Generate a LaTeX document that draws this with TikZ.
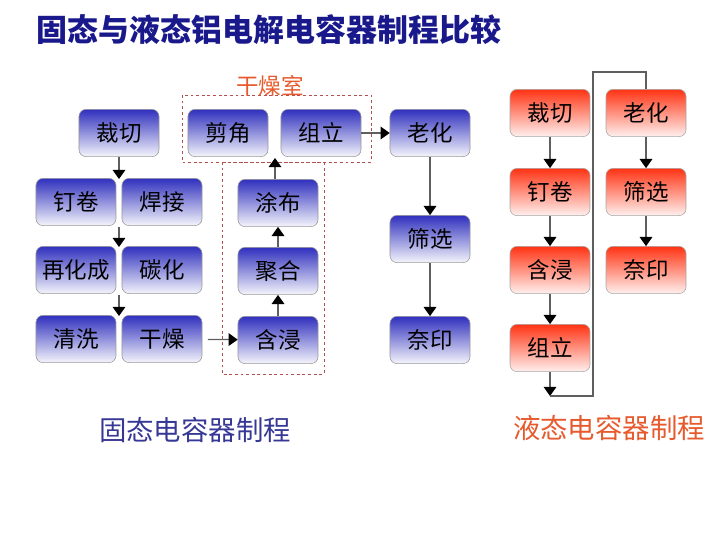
\documentclass[tikz,border=0pt]{standalone}
\usepackage{fontspec}
\setmainfont{Noto Sans CJK SC}
\usetikzlibrary{arrows.meta,positioning}
\definecolor{ssblue}{RGB}{48,48,190}
\definecolor{lqred}{RGB}{255,52,20}
\definecolor{titleblue}{RGB}{25,25,140}
\definecolor{labelblue}{RGB}{55,55,150}
\definecolor{roomred}{RGB}{176,80,80}
\definecolor{labelorange}{RGB}{230,90,45}
\definecolor{linegray}{RGB}{95,95,95}
\tikzstyle{ssbox} = [rectangle, rounded corners=5pt, minimum width=2cm, minimum height=1.18cm, inner sep=0pt, text centered, draw=gray!80, top color=ssblue, bottom color=ssblue!5, font=\fontsize{16}{18}\selectfont]
\tikzstyle{lqbox} = [rectangle, rounded corners=5pt, minimum width=2cm, minimum height=1.18cm, inner sep=0pt, text centered, draw=gray!70, top color=lqred, bottom color=lqred!7, font=\fontsize{16}{18}\selectfont]
\tikzstyle{arrow} = [draw=linegray, line width=0.9pt, -{Triangle[width=9pt,length=6.5pt,color=black]}]
\tikzstyle{line} = [draw=linegray, line width=0.9pt]
\tikzstyle{room} = [draw=roomred, line width=0.7pt, dash pattern=on 2pt off 2pt]

\begin{document}
\begin{tikzpicture}[x=0.025cm, y=-0.025cm]
  \useasboundingbox (0,0) rectangle (720,540);
  \node (title)[text=titleblue, font=\fontsize{22}{24}\selectfont\bfseries] at (269,30) {固态与液态铝电解电容器制程比较};

  % solid capacitor
  \node (cut)[ssbox] at (119,133) {裁切};
  \node (wind)[ssbox] at (76,202) {钉卷};
  \node (weld)[ssbox] at (162,202) {焊接};
  \node (reform)[ssbox] at (76,270) {再化成};
  \node (carb)[ssbox] at (162,270) {碳化};
  \node (wash)[ssbox] at (76,339) {清洗};
  \node (dry)[ssbox] at (162,339) {干燥};
  \node (trim)[ssbox] at (228,133) {剪角};
  \node (assy)[ssbox] at (321,133) {组立};
  \node (coat)[ssbox] at (278,203) {涂布};
  \node (poly)[ssbox] at (278,271) {聚合};
  \node (impr)[ssbox] at (278,340) {含浸};
  \node (age)[ssbox] at (430,133) {老化};
  \node (sort)[ssbox] at (430,239) {筛选};
  \node (mark)[ssbox] at (430,340) {奈印};

  \draw [room] (182,95) rectangle (371,162);
  \draw [room] (222,162) rectangle (324,374);
  \node (room)[text=labelorange, font=\fontsize{16}{18}\selectfont] at (270,86) {干燥室};

  \coordinate (g1) at (119,179);
  \coordinate (g2a) at (119,227);
  \coordinate (g2) at (119,247);
  \coordinate (g3a) at (119,295);
  \coordinate (g3) at (119,316);
  \coordinate (g4) at (275,158);
  \draw [arrow] (cut) -- (g1);
  \draw [arrow] (g2a) -- (g2);
  \draw [arrow] (g3a) -- (g3);
  \draw [arrow, shorten <=4pt] (dry) -- (impr);
  \draw [arrow] (impr) -- (poly);
  \draw [arrow] (poly) -- (coat);
  \draw [arrow] (g4 |- coat.north) -- (g4);
  \draw [arrow] (assy) -- (age);
  \draw [arrow] (age) -- (sort);
  \draw [arrow] (sort) -- (mark);

  % liquid capacitor
  \node (lcut)[lqbox] at (550,113) {裁切};
  \node (lwind)[lqbox] at (550,192) {钉卷};
  \node (limpr)[lqbox] at (550,270) {含浸};
  \node (lassy)[lqbox] at (550,348) {组立};
  \node (lage)[lqbox] at (646,113) {老化};
  \node (lsort)[lqbox] at (646,192) {筛选};
  \node (lmark)[lqbox] at (646,270) {奈印};

  \coordinate (lend) at (550,396);
  \coordinate (lturn) at (593,72);
  \draw [arrow] (lcut) -- (lwind);
  \draw [arrow] (lwind) -- (limpr);
  \draw [arrow] (limpr) -- (lassy);
  \draw [arrow] (lassy) -- (lend);
  \draw [line] (lend) -| (lturn) -| (lage.north);
  \draw [arrow] (lage) -- (lsort);
  \draw [arrow] (lsort) -- (lmark);

  \node (sslabel)[text=labelblue, font=\fontsize{19.5}{22}\selectfont] at (195,430) {固态电容器制程};
  \node (lqlabel)[text=labelorange, font=\fontsize{19.5}{22}\selectfont] at (609,428) {液态电容器制程};
\end{tikzpicture}
\end{document}
